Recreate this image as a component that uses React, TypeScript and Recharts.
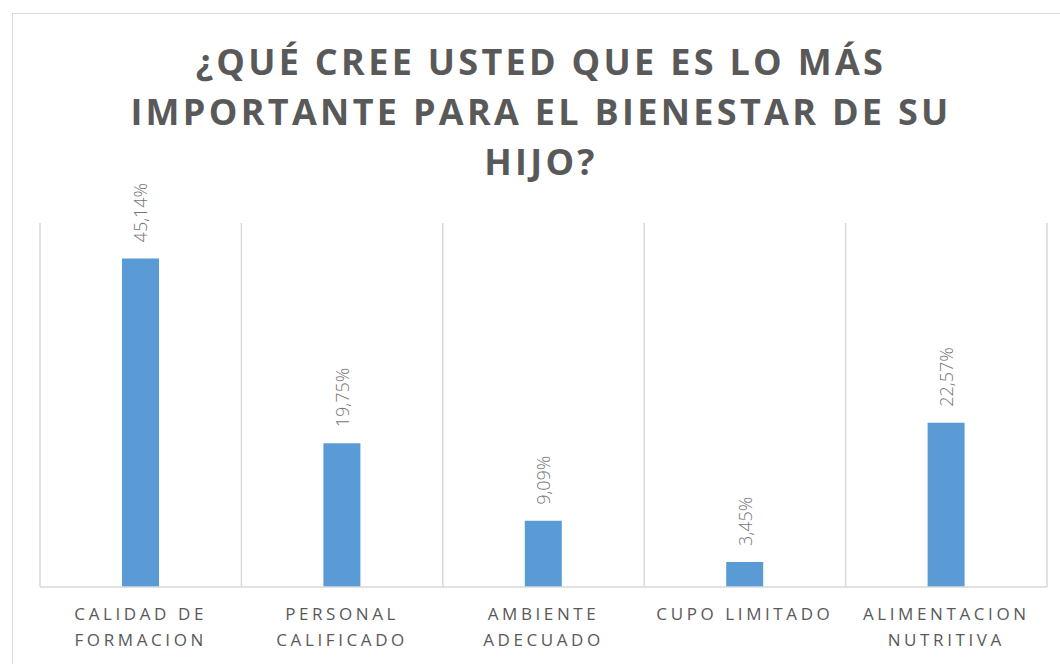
import React from "react";
import { BarChart, Bar, XAxis, YAxis, CartesianGrid, LabelList } from "recharts";

const categories: string[][] = [
  ["CALIDAD DE", "FORMACION"],
  ["PERSONAL", "CALIFICADO"],
  ["AMBIENTE", "ADECUADO"],
  ["CUPO LIMITADO"],
  ["ALIMENTACION", "NUTRITIVA"],
];
const values: number[] = [45.14, 19.75, 9.09, 3.45, 22.57];
const titleLines: string[] = [
  "¿QUÉ CREE USTED QUE ES LO MÁS",
  "IMPORTANTE PARA EL BIENESTAR DE SU",
  "HIJO?",
];

const data = categories.map((c, i) => ({ name: c.join(" "), lines: c, value: values[i] }));

const FONT = "'Open Sans', 'Noto Sans', sans-serif";

const Tick = (props: any) => {
  const { x, y, payload, index } = props;
  const lines = categories[index] || [payload.value];
  return (
    <g>
      {lines.map((l: string, i: number) => (
        <text
          key={i}
          x={x}
          y={y + 18 + i * 26}
          textAnchor="middle"
          dominantBaseline="central"
          fill="#595959"
          fontFamily={FONT}
          fontSize={17}
          style={{ letterSpacing: "3.6px" }}
        >
          {l}
        </text>
      ))}
    </g>
  );
};

const BarLabel = (props: any) => {
  const { x, y, width, value } = props;
  const cx = x + width / 2;
  const cy = y - 16;
  return (
    <text
      x={cx}
      y={cy}
      transform={`rotate(-90 ${cx} ${cy})`}
      textAnchor="start"
      dominantBaseline="central"
      fill="#767676"
      fontFamily={FONT}
      fontWeight={300}
      fontSize={18}
    >
      {value.toFixed(2).replace(".", ",") + "%"}
    </text>
  );
};

export default function App() {
  return (
    <div style={{ position: "relative", width: 1060, height: 664, overflow: "hidden", background: "#fff" }}>
      <style>{`body{margin:0}`}</style>
      <div
        style={{
          position: "absolute",
          left: 12,
          top: 13,
          width: 1080,
          height: 700,
          border: "1.5px solid #d9d9d9",
          boxSizing: "border-box",
        }}
      />
      <svg style={{ position: "absolute", left: 0, top: 0 }} width={1060} height={664}>
        {titleLines.map((t, i) => (
          <text
            key={i}
            x={541}
            y={75 + i * 50}
            textAnchor="middle"
            fill="#595959"
            fontFamily={FONT}
            fontWeight={700}
            fontSize={36}
            style={{ letterSpacing: "3.3px" }}
          >
            {t}
          </text>
        ))}
      </svg>
      <div style={{ position: "absolute", left: 0, top: 0 }}>
        <BarChart
          width={1060}
          height={664}
          data={data}
          margin={{ top: 223, right: 13, bottom: 47, left: 40 }}
        >
          <CartesianGrid
            horizontal={false}
            stroke="#d9d9d9"
            strokeWidth={1.5}
            verticalCoordinatesGenerator={({ offset }: any) =>
              [0, 1, 2, 3, 4, 5].map((i) => offset.left + (i * offset.width) / 5)
            }
          />
          <XAxis
            dataKey="name"
            tickLine={false}
            axisLine={{ stroke: "#d9d9d9", strokeWidth: 1.5 }}
            tick={<Tick />}
            interval={0}
          />
          <YAxis hide domain={[0, 50]} />
          <Bar dataKey="value" fill="#5b9bd5" barSize={37} isAnimationActive={false}>
            <LabelList dataKey="value" content={<BarLabel />} />
          </Bar>
        </BarChart>
      </div>
    </div>
  );
}
